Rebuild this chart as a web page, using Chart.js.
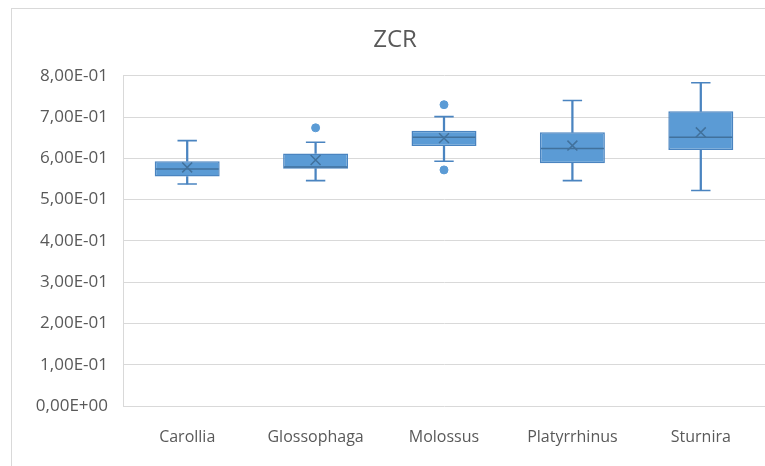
<!DOCTYPE html>
<html lang="en">
<head>
  <meta charset="UTF-8" />
  <title>ZCR</title>
  <script src="https://cdn.jsdelivr.net/npm/chart.js"></script>
  <style>
    body {
      margin: 0;
      background: #ffffff;
      overflow: hidden;
    }
    #wrap {
      position: relative;
      width: 765px;
      height: 466px;
    }
  </style>
</head>
<body>

<div id="wrap">
  <canvas id="zcrChart" width="765" height="466"></canvas>
</div>

<script>
// box & whisker summary per genus
const categories = ['Carollia', 'Glossophaga', 'Molossus', 'Platyrrhinus', 'Sturnira'];
const whiskerLow  = [0.538, 0.546, 0.593, 0.546, 0.522];
const quartile1   = [0.556, 0.575, 0.630, 0.588, 0.620];
const medians     = [0.574, 0.579, 0.651, 0.624, 0.651];
const quartile3   = [0.593, 0.612, 0.667, 0.663, 0.714];
const whiskerHigh = [0.643, 0.639, 0.701, 0.740, 0.783];
const means       = [0.578, 0.596, 0.649, 0.631, 0.663];
const outlierCats = ['Glossophaga', 'Molossus', 'Molossus'];
const outlierVals = [0.674, 0.730, 0.572];
const yTicks      = [0, 0.1, 0.2, 0.3, 0.4, 0.5, 0.6, 0.7, 0.8];

const FILL = '#5B9BD5';
const LINE = '#4A84C0';
const DARK = '#41719C';
const TEXT = '#595959';
const GRID = '#D9D9D9';

// "8,00E-01" style labels
function sciComma(v) {
  const s = Number(v).toExponential(2);
  const parts = s.split('e');
  let exp = parseInt(parts[1], 10);
  const sign = exp < 0 ? '-' : '+';
  exp = Math.abs(exp);
  return parts[0].replace('.', ',') + 'E' + sign + String(exp).padStart(2, '0');
}

// light frame round the chart object
const frame = {
  id: 'frame',
  beforeDraw(chart) {
    const ctx = chart.ctx;
    ctx.save();
    ctx.strokeStyle = GRID;
    ctx.lineWidth = 1;
    ctx.strokeRect(11.5, 8.5, 800, 500);
    ctx.restore();
  }
};

const lowStems = categories.map((c, i) => [whiskerLow[i], quartile1[i]]);
const highStems = categories.map((c, i) => [quartile3[i], whiskerHigh[i]]);
const boxes = categories.map((c, i) => [quartile1[i], quartile3[i]]);
const outliers = outlierCats.map((c, i) => ({ x: c, y: outlierVals[i] }));

const ctx = document.getElementById('zcrChart').getContext('2d');
new Chart(ctx, {
  type: 'bar',
  data: {
    labels: categories,
    datasets: [
      {
        label: 'box',
        data: boxes,
        backgroundColor: FILL,
        borderColor: LINE,
        borderWidth: 1.5,
        borderSkipped: false,
        barPercentage: 0.506,
        categoryPercentage: 1,
        grouped: false,
        order: 3
      },
      {
        label: 'low stem',
        data: lowStems,
        backgroundColor: LINE,
        borderWidth: 0,
        barThickness: 1.6,
        grouped: false,
        order: 4
      },
      {
        label: 'high stem',
        data: highStems,
        backgroundColor: LINE,
        borderWidth: 0,
        barThickness: 1.6,
        grouped: false,
        order: 4
      },
      {
        type: 'line',
        label: 'low cap',
        data: whiskerLow,
        showLine: false,
        pointStyle: 'line',
        pointRadius: 9.7,
        pointBorderWidth: 1.6,
        pointBorderColor: LINE,
        order: 2
      },
      {
        type: 'line',
        label: 'high cap',
        data: whiskerHigh,
        showLine: false,
        pointStyle: 'line',
        pointRadius: 9.7,
        pointBorderWidth: 1.6,
        pointBorderColor: LINE,
        order: 2
      },
      {
        type: 'line',
        label: 'median',
        data: medians,
        showLine: false,
        pointStyle: 'line',
        pointRadius: 31.5,
        pointBorderWidth: 1.5,
        pointBorderColor: DARK,
        order: 1
      },
      {
        type: 'line',
        label: 'mean',
        data: means,
        showLine: false,
        pointStyle: 'crossRot',
        pointRadius: 7,
        pointBorderWidth: 1.5,
        pointBorderColor: DARK,
        order: 0
      },
      {
        type: 'line',
        label: 'outliers',
        data: outliers,
        showLine: false,
        pointStyle: 'circle',
        pointRadius: 4,
        pointBackgroundColor: FILL,
        pointBorderColor: FILL,
        pointBorderWidth: 1,
        order: 0
      }
    ]
  },
  options: {
    responsive: false,
    animation: false,
    layout: {
      // the wide median markers would otherwise push the plot edge in
      autoPadding: false,
      padding: { left: 25, right: 0, top: 0, bottom: 0 }
    },
    plugins: {
      legend: { display: false },
      tooltip: { enabled: false },
      title: {
        display: true,
        text: 'ZCR',
        color: TEXT,
        font: { family: 'Open Sans', size: 24, weight: 'normal' },
        padding: { top: 26, bottom: 21 }
      }
    },
    scales: {
      x: {
        type: 'category',
        grid: { display: false },
        border: { display: false },
        ticks: {
          color: TEXT,
          font: { family: 'Open Sans', size: 16 },
          padding: 14,
          maxRotation: 0
        },
        afterFit(axis) {
          axis.height = 60;
          axis.paddingLeft = 0;
          axis.paddingRight = 0;
        }
      },
      y: {
        min: 0,
        max: 0.8,
        afterBuildTicks(axis) {
          axis.ticks = yTicks.map(v => ({ value: v }));
        },
        grid: { color: GRID, lineWidth: 1, drawTicks: false },
        border: { display: true, color: GRID, width: 1 },
        ticks: {
          color: TEXT,
          font: { family: 'Open Sans', size: 17 },
          padding: 15,
          callback: v => sciComma(v)
        },
        afterFit(axis) { axis.width = 98; }
      }
    }
  },
  plugins: [frame]
});
</script>

</body>
</html>
